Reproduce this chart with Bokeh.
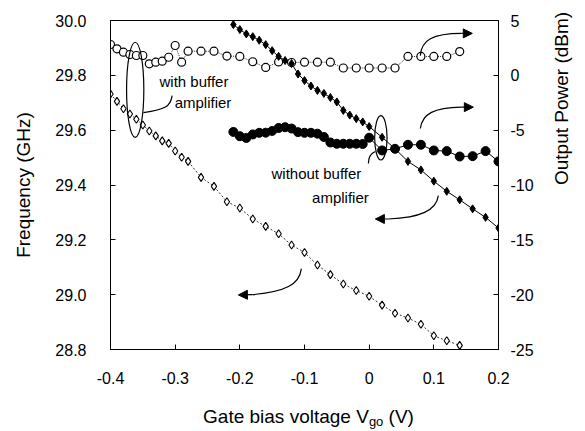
import math
from bokeh.plotting import figure
from bokeh.layouts import column
from bokeh.models import Range1d, LinearAxis, FixedTicker, Label, Arrow, NormalHead, Div
from bokeh.embed import file_html
from bokeh.resources import INLINE

# ---------------- data ----------------
# with buffer amplifier (open symbols)
wb_x = [-0.40, -0.39, -0.38, -0.37, -0.36, -0.35, -0.34, -0.33, -0.32, -0.31, -0.30, -0.29, -0.28,
        -0.26, -0.24, -0.22, -0.20, -0.18, -0.16, -0.14, -0.12, -0.10, -0.08, -0.06, -0.04, -0.02,
        0.00, 0.02, 0.04, 0.06, 0.08, 0.10, 0.12, 0.14]
wb_power = [2.81, 2.42, 2.11, 1.90, 1.81, 1.81, 1.05, 1.20, 1.29, 1.65, 2.72, 1.20, 2.20,
            2.20, 2.20, 1.76, 1.72, 1.24, 0.72, 1.22, 1.17, 1.20, 1.20, 1.20, 0.67, 0.67,
            0.67, 0.67, 0.67, 1.72, 1.72, 1.72, 1.72, 2.17]
wb_freq = [29.732, 29.705, 29.678, 29.659, 29.640, 29.619, 29.597, 29.579, 29.561, 29.552, 29.524,
           29.501, 29.486, 29.428, 29.395, 29.339, 29.316, 29.276, 29.249, 29.222, 29.181, 29.154,
           29.108, 29.073, 29.039, 29.015, 28.994, 28.962, 28.932, 28.915, 28.892, 28.850, 28.832, 28.815]

# without buffer amplifier (filled symbols)
nb_x = [-0.21, -0.20, -0.19, -0.18, -0.17, -0.16, -0.15, -0.14, -0.13, -0.12, -0.11, -0.10, -0.09,
        -0.08, -0.07, -0.06, -0.05, -0.04, -0.03, -0.02, -0.01, 0.00,
        0.02, 0.04, 0.06, 0.08, 0.10, 0.12, 0.14, 0.16, 0.18, 0.20]
nb_freq = [29.985, 29.967, 29.951, 29.941, 29.928, 29.912, 29.890, 29.869, 29.854, 29.843, 29.805,
           29.781, 29.761, 29.745, 29.734, 29.719, 29.703, 29.672, 29.655, 29.642, 29.630, 29.613,
           29.574, 29.532, 29.486, 29.455, 29.414, 29.377, 29.346, 29.313, 29.282, 29.243]
nb_power = [-5.16, -5.55, -5.71, -5.39, -5.24, -5.23, -5.07, -4.80, -4.73, -4.85, -5.18, -5.24, -5.24,
            -5.32, -5.62, -6.12, -6.24, -6.24, -6.24, -6.24, -6.26, -5.69,
            -6.85, -6.70, -6.33, -6.33, -6.85, -6.91, -7.40, -7.37, -6.91, -7.85]

x_ticks = [-0.4, -0.3, -0.2, -0.1, 0.0, 0.1, 0.2]
x_tick_labels = ["-0.4", "-0.3", "-0.2", "-0.1", "0", "0.1", "0.2"]
f_ticks = [28.8, 29.0, 29.2, 29.4, 29.6, 29.8, 30.0]
f_tick_labels = ["28.8", "29.0", "29.2", "29.4", "29.6", "29.8", "30.0"]
p_ticks = [-25, -20, -15, -10, -5, 0, 5]
p_tick_labels = ["-25", "-20", "-15", "-10", "-5", "0", "5"]

FONT = "Liberation Sans"

p = figure(width=585, height=400, x_range=Range1d(-0.4, 0.2), y_range=Range1d(28.8, 30.0),
           output_backend="svg", toolbar_location=None,
           min_border_left=110, min_border_right=87, min_border_top=20, min_border_bottom=51)
p.extra_y_ranges = {"power": Range1d(-25, 5)}
p.xgrid.visible = False
p.ygrid.visible = False
p.outline_line_color = "black"
p.outline_line_width = 1
p.outline_line_alpha = 1
p.background_fill_color = "white"
p.border_fill_color = "white"

def style_axis(ax, standoff):
    ax.major_tick_in = 5
    ax.major_tick_out = 0
    ax.minor_tick_line_color = None
    ax.axis_line_color = "black"
    ax.major_tick_line_color = "black"
    ax.major_label_text_font = FONT
    ax.major_label_text_font_size = "16px"
    ax.major_label_text_color = "black"
    ax.major_label_standoff = standoff
    ax.axis_label_text_font = FONT
    ax.axis_label_text_font_size = "19px"
    ax.axis_label_text_font_style = "normal"
    ax.axis_label_text_color = "black"

xa = p.xaxis[0]
xa.ticker = FixedTicker(ticks=x_ticks)
xa.major_label_overrides = dict(zip(x_ticks, x_tick_labels))
style_axis(xa, 22)

ya = p.yaxis[0]
ya.ticker = FixedTicker(ticks=f_ticks)
ya.major_label_overrides = dict(zip(f_ticks, f_tick_labels))
ya.axis_label = "Frequency (GHz)"
ya.axis_label_standoff = 18
style_axis(ya, 24)

ra = LinearAxis(y_range_name="power", ticker=FixedTicker(ticks=p_ticks))
ra.major_label_overrides = dict(zip(p_ticks, p_tick_labels))
ra.axis_label = "Output Power (dBm)"
ra.axis_label_standoff = 25
try:
    ra.axis_label_orientation = math.pi / 2
except Exception:
    pass
style_axis(ra, 12)
p.add_layout(ra, "right")

# ---------------- series ----------------
p.line(wb_x, wb_power, y_range_name="power", line_color="black", line_width=0.8, line_dash="1 1")
p.line(wb_x, wb_freq, line_color="black", line_width=0.8, line_dash="2 2")
p.line(nb_x, nb_power, y_range_name="power", line_color="black", line_width=1)
p.line(nb_x, nb_freq, line_color="black", line_width=1)

p.scatter(wb_x, wb_power, y_range_name="power", marker="circle", size=8,
          fill_color="white", line_color="black", line_width=1.2)
p.scatter(wb_x, wb_freq, marker="diamond", size=8,
          fill_color="white", line_color="black", line_width=1.1)
p.scatter(nb_x, nb_power, y_range_name="power", marker="circle", size=9,
          fill_color="black", line_color="black")
p.scatter(nb_x, nb_freq, marker="diamond", size=8,
          fill_color="black", line_color="black")

# ---------------- annotations ----------------
p.ellipse(x=[-0.3618, 0.0181], y=[29.7474, 29.572], width=[0.0267, 0.0192], height=[0.3467, 0.1617],
          fill_color=None, line_color="black", line_width=1.2)

# leader lines
p.bezier(x0=[-0.3046, 0.0096], y0=[29.726, 29.522],
         cx0=[-0.3073, 0.0019], cy0=[29.686, 29.515],
         cx1=[-0.3150, -0.0012], cy1=[29.675, 29.500],
         x1=[-0.3490, -0.0012], y1=[29.664, 29.478],
         line_color="black", line_width=1.2)

# curved arrows
arr_start = [(0.0791, 29.872), (0.0791, 29.606), (0.1070, 29.361), (-0.1048, 29.095)]
arr_c0 = [(0.0807, 29.927), (0.0822, 29.661), (0.1039, 29.307), (-0.1079, 29.036)]
arr_c1 = [(0.0977, 29.953), (0.1008, 29.682), (0.0791, 29.281), (-0.1295, 29.011)]
arr_end = [(0.1425, 29.953), (0.1425, 29.684), (0.0297, 29.276), (-0.1805, 29.000)]
arr_tip = [(0.1595, 29.953), (0.1611, 29.684), (0.0096, 29.276), (-0.2022, 28.999)]
p.bezier(x0=[a[0] for a in arr_start], y0=[a[1] for a in arr_start],
         cx0=[a[0] for a in arr_c0], cy0=[a[1] for a in arr_c0],
         cx1=[a[0] for a in arr_c1], cy1=[a[1] for a in arr_c1],
         x1=[a[0] for a in arr_end], y1=[a[1] for a in arr_end],
         line_color="black", line_width=1.2)
for (xs, ys), (xe, ye) in zip(arr_end, arr_tip):
    p.add_layout(Arrow(end=NormalHead(size=9, fill_color="black", line_color="black"),
                       x_start=xs, y_start=ys, x_end=xe, y_end=ye,
                       line_color="black", line_width=1.2))

def add_text(x, y, t, size="15px", align="center", baseline="middle"):
    p.add_layout(Label(x=x, y=y, text=t, text_font=FONT, text_font_size=size,
                       text_align=align, text_baseline=baseline, text_color="black"))

add_text(-0.2709, 29.7785, "with buffer")
add_text(-0.2570, 29.702, "amplifier")
add_text(-0.0816, 29.4416, "without buffer")
add_text(-0.0445, 29.354, "amplifier")

# x axis title with subscript (HTML below the figure)
xtitle = Div(
    text=('<div style="font-family:\'Liberation Sans\',Arial,sans-serif;font-size:19px;color:#000;'
          'width:585px;box-sizing:border-box;padding-left:22px;text-align:center;'
          'line-height:20px;padding-top:2px;white-space:nowrap;">'
          'Gate bias voltage V<span style="font-size:13px;position:relative;top:3px;">go</span> (V)</div>'),
    width=585, height=31)

layout = column(p, xtitle, spacing=0)
open("out.html", "w").write(file_html(layout, INLINE))
